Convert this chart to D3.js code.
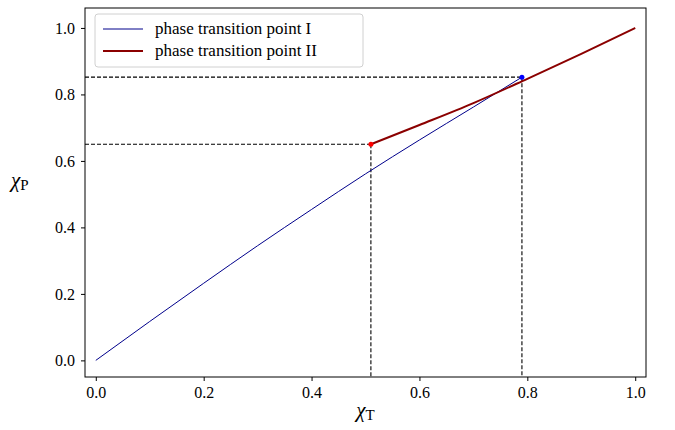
<!DOCTYPE html>
<html>
<head>
<meta charset="utf-8">
<script src="https://cdn.jsdelivr.net/npm/d3@7"></script>
<style>
  body { margin: 0; background: #fff; }
  text { font-family: "Liberation Serif", "DejaVu Serif", serif; fill: #000; }
</style>
</head>
<body>
<div id="chart"></div>
<script>
// data
const xTicks = [0.0, 0.2, 0.4, 0.6, 0.8, 1.0];
const yTicks = [0.0, 0.2, 0.4, 0.6, 0.8, 1.0];
const seriesNames = ['phase transition point I', 'phase transition point II'];
const lineIx = [0.0, 0.1, 0.2, 0.3, 0.4, 0.5, 0.6, 0.7, 0.79];
const lineIy = [0.0, 0.117, 0.232, 0.345, 0.454, 0.561, 0.663, 0.762, 0.852];
const lineIIx = [0.51, 0.6, 0.7, 0.8, 0.9, 1.0];
const lineIIy = [0.65, 0.708, 0.774, 0.847, 0.922, 1.0];
const pointI = [0.79, 0.852];
const pointII = [0.51, 0.65];

const width = 675, height = 430;
const margin = { left: 85, right: 29, top: 8, bottom: 53 };
const w = width - margin.left - margin.right;
const h = height - margin.top - margin.bottom;

const svg = d3.select('#chart').append('svg')
  .attr('width', width)
  .attr('height', height);

const g = svg.append('g')
  .attr('transform', `translate(${margin.left},${margin.top})`);

const x = d3.scaleLinear().domain([-0.02, 1.02]).range([0, w]);
const y = d3.scaleLinear().domain([-0.05, 1.06]).range([h, 0]);

// dashed guides
const guides = [pointI, pointII];
guides.forEach(p => {
  g.append('line')
    .attr('x1', 0).attr('x2', x(p[0]))
    .attr('y1', y(p[1])).attr('y2', y(p[1]))
    .attr('stroke', '#000').attr('stroke-width', 1.1)
    .attr('stroke-dasharray', '4,2');
  g.append('line')
    .attr('x1', x(p[0])).attr('x2', x(p[0]))
    .attr('y1', y(p[1])).attr('y2', h)
    .attr('stroke', '#000').attr('stroke-width', 1.1)
    .attr('stroke-dasharray', '4,2');
});

const line = d3.line().x(d => x(d[0])).y(d => y(d[1])).curve(d3.curveMonotoneX);

g.append('path')
  .datum(d3.zip(lineIx, lineIy))
  .attr('d', line)
  .attr('fill', 'none')
  .attr('stroke', '#00008b')
  .attr('stroke-width', 1);

g.append('path')
  .datum(d3.zip(lineIIx, lineIIy))
  .attr('d', line)
  .attr('fill', 'none')
  .attr('stroke', '#8b0000')
  .attr('stroke-width', 2);

g.append('circle')
  .attr('cx', x(pointI[0])).attr('cy', y(pointI[1]))
  .attr('r', 2.5).attr('fill', 'blue');
g.append('circle')
  .attr('cx', x(pointII[0])).attr('cy', y(pointII[1]))
  .attr('r', 2.5).attr('fill', 'red');

// axes
const xAxis = g.append('g')
  .attr('transform', `translate(0,${h})`)
  .call(d3.axisBottom(x).tickValues(xTicks).tickFormat(d3.format('.1f')).tickSizeOuter(0).tickSize(4).tickPadding(6));
const yAxis = g.append('g')
  .call(d3.axisLeft(y).tickValues(yTicks).tickFormat(d3.format('.1f')).tickSizeOuter(0).tickSize(4).tickPadding(6));
[xAxis, yAxis].forEach(a => {
  a.select('.domain').remove();
  a.selectAll('text').attr('font-size', 16).attr('font-family', '"Liberation Serif", serif');
  a.selectAll('line').attr('stroke', '#000').attr('stroke-width', 1);
});

g.append('rect')
  .attr('width', w).attr('height', h)
  .attr('fill', 'none').attr('stroke', '#000').attr('stroke-width', 1);

// axis labels
const xl = svg.append('text')
  .attr('x', margin.left + x(0.5)).attr('y', 417)
  .attr('text-anchor', 'middle').attr('font-size', 21);
xl.append('tspan').attr('font-style', 'italic').text('χ');
xl.append('tspan').attr('font-size', 15).attr('dy', 3).text('T');

const yl = svg.append('text')
  .attr('x', 11).attr('y', 187)
  .attr('font-size', 21);
yl.append('tspan').attr('font-style', 'italic').text('χ');
yl.append('tspan').attr('font-size', 15).attr('dy', 3).text('P');

// legend
const legend = g.append('g').attr('transform', 'translate(10,6)');
legend.append('rect')
  .attr('width', 268).attr('height', 53).attr('rx', 3)
  .attr('fill', '#fff').attr('fill-opacity', 0.8)
  .attr('stroke', '#d0d0d0').attr('stroke-width', 1);
const colors = ['#00008b', '#8b0000'];
const widths = [1, 2];
seriesNames.forEach((name, i) => {
  const ly = 15 + i * 22;
  legend.append('line')
    .attr('x1', 8).attr('x2', 48)
    .attr('y1', ly).attr('y2', ly)
    .attr('stroke', colors[i]).attr('stroke-width', widths[i]);
  legend.append('text')
    .attr('x', 60).attr('y', ly + 5)
    .attr('font-size', 17)
    .text(name);
});
</script>
</body>
</html>
